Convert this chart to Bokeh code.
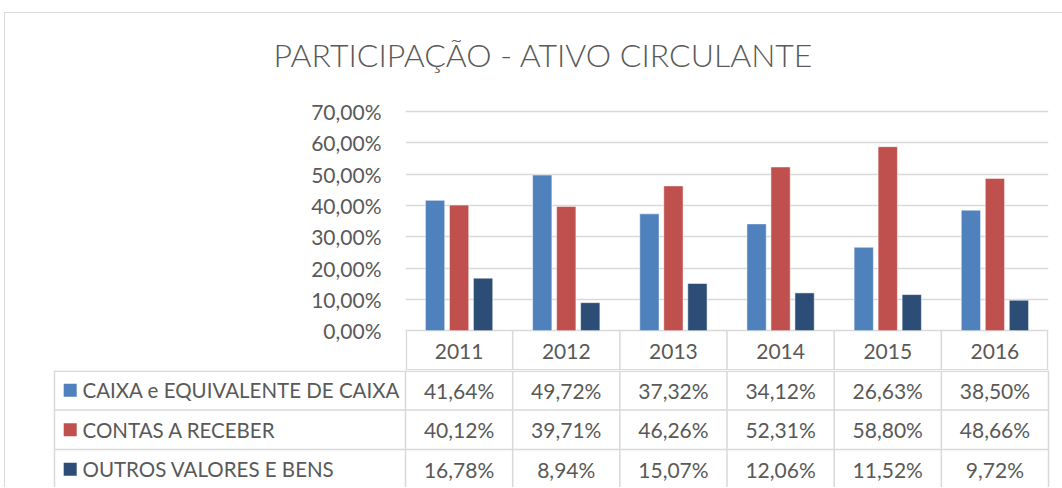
from bokeh.plotting import figure
from bokeh.models import (FactorRange, Range1d, FixedTicker, CustomJSTickFormatter,
                          ColumnDataSource)
from bokeh.transform import dodge
from bokeh.layouts import column
from bokeh.core.properties import value
from bokeh.embed import file_html
from bokeh.resources import INLINE

# ---- data ----
years = ["2011", "2012", "2013", "2014", "2015", "2016"]
series_names = ["CAIXA e EQUIVALENTE DE CAIXA", "CONTAS A RECEBER", "OUTROS VALORES E BENS"]
caixa = [41.64, 49.72, 37.32, 34.12, 26.63, 38.50]
contas = [40.12, 39.71, 46.26, 52.31, 58.80, 48.66]
outros = [16.78, 8.94, 15.07, 12.06, 11.52, 9.72]
y_ticks = [0, 10, 20, 30, 40, 50, 60, 70]
title_text = "PARTICIPAÇÃO - ATIVO CIRCULANTE"

# ---- style ----
colors = ["#4f81bd", "#c0504d", "#2c4d75"]
FONT = "Lato"
TITLE_FONT = "'Lato Light', Lato"
TXT = "#595959"
GRID = "#d9d9d9"
FS = "21px"
FS_LBL = "20.5px"

OX, OY = 5, 13          # page offset of the figures (margin + border)
W = 1057
HT = 85
HA = 272
HB = 117
K = 3.1286      # px per percentage point
COL = 107.17    # px per category column
ROW = 39.5      # px per table row
FRAME_L = 405   # page x of plot frame left
LEFT = FRAME_L - OX

series = [caixa, contas, outros]
keys = ["caixa", "contas", "outros"]
n = len(years)


def fmt(v):
    return f"{v:.2f}".replace(".", ",") + "%"


def bare(p):
    p.outline_line_color = None
    p.frame_align = False
    for g in p.grid:
        g.visible = False


# ---- title strip ----
pt = figure(width=W, height=HT, x_range=Range1d(0, W), y_range=Range1d(HT, 0),
            x_axis_location=None, y_axis_location=None, toolbar_location=None,
            output_backend="svg", min_border=0)
bare(pt)
pt.text(x=[543 - OX], y=[54 - OY], text=[title_text], text_align="center",
        text_baseline="middle", text_font=value(TITLE_FONT), text_font_size="32px",
        text_color=TXT)

# ---- chart ----
src = ColumnDataSource(dict(year=years, caixa=caixa, contas=contas, outros=outros))
y_top = 71
top_border = 10
y_bot = y_top - (HA - top_border) / K

pa = figure(width=W, height=HA, x_range=FactorRange(*years, range_padding=0),
            y_range=Range1d(y_bot, y_top), x_axis_location=None,
            toolbar_location=None, output_backend="svg",
            min_border_left=LEFT, min_border_right=W - (1048 - OX),
            min_border_top=top_border, min_border_bottom=0)
pa.frame_align = False
pa.outline_line_color = None
pa.xgrid.grid_line_color = None
ticker = FixedTicker(ticks=y_ticks)
pa.yaxis.ticker = ticker
pa.ygrid.ticker = ticker
pa.ygrid.grid_line_color = GRID
pa.ygrid.grid_line_width = 1.5
pa.yaxis.formatter = CustomJSTickFormatter(code="return tick.toFixed(2).replace('.', ',') + '%';")
pa.yaxis.axis_line_color = None
pa.yaxis.major_tick_line_color = None
pa.yaxis.minor_tick_line_color = None
pa.yaxis.major_tick_out = 0
pa.yaxis.major_tick_in = 0
pa.yaxis.major_label_standoff = 24
pa.yaxis.major_label_text_font = FONT
pa.yaxis.major_label_text_font_size = FS
pa.yaxis.major_label_text_color = TXT

offsets = [-0.224, 0.0, 0.224]
for key, off, c in zip(keys, offsets, colors):
    pa.vbar(x=dodge("year", off, range=pa.x_range), top=key, bottom=0, width=0.18,
            source=src, fill_color=c, line_color="white", line_alpha=0.5, line_width=1)

# header row of the data table (inside chart frame, below zero)
vx = [0.008] + list(range(1, n)) + [n - 0.008]
pa.segment(x0=vx, y0=[0] * len(vx), x1=vx, y1=[y_bot] * len(vx),
           line_color=GRID, line_width=1.5)
pa.segment(x0=[0], y0=[y_bot + 0.2], x1=[n], y1=[y_bot + 0.2], line_color=GRID, line_width=1.5)
hdr_y = -(351 - 330) / K
pa.text(x=years, y=[hdr_y] * n, text=years, text_align="center", text_baseline="middle",
        text_font=value(FONT), text_font_size=FS, text_color=TXT)

# ---- data table rows ----
pb = figure(width=W, height=HB, x_range=Range1d(-LEFT / COL, (W - LEFT) / COL),
            y_range=Range1d(HB / ROW, 0), x_axis_location=None, y_axis_location=None,
            toolbar_location=None, output_backend="svg", min_border=0)
bare(pb)

TL = (54 - FRAME_L) / COL
nrows = len(series)
hy = [0.02] + list(range(1, nrows + 1))
pb.segment(x0=[TL] * len(hy), y0=hy, x1=[n] * len(hy), y1=hy, line_color=GRID, line_width=1.5)
vxb = [TL] + list(range(0, n + 1))
pb.segment(x0=vxb, y0=[0] * len(vxb), x1=vxb, y1=[nrows] * len(vxb), line_color=GRID, line_width=1.5)

row_y = [i + 0.5 for i in range(nrows)]
pb.scatter(x=[(69.7 - FRAME_L) / COL] * nrows, y=row_y, marker="square", size=13,
           fill_color=colors, line_color=None)
pb.text(x=[(82 - FRAME_L) / COL] * nrows, y=row_y, text=series_names, text_align="left",
        text_baseline="middle", text_font=value(FONT), text_font_size=FS_LBL, text_color=TXT)

vx_t, vy_t, vt = [], [], []
for i, s in enumerate(series):
    for j, v in enumerate(s):
        vx_t.append(j + 0.5)
        vy_t.append(i + 0.5)
        vt.append(fmt(v))
pb.text(x=vx_t, y=vy_t, text=vt, text_align="center", text_baseline="middle",
        text_font=value(FONT), text_font_size=FS, text_color=TXT)

layout = column(pt, pa, pb, spacing=0,
                styles={"border-top": "1px solid #d9d9d9", "border-left": "1px solid #d9d9d9",
                        "margin-left": "4px", "margin-top": "12px"})

open("out.html", "w").write(file_html(layout, INLINE))
